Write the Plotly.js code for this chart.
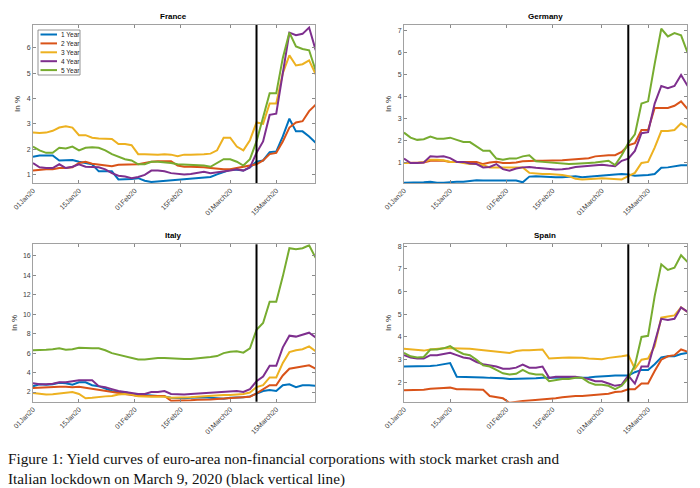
<!DOCTYPE html>
<html>
<head>
<meta charset="utf-8">
<script src="https://cdn.plot.ly/plotly-3.0.1.min.js"></script>
<style>
  html, body { margin: 0; padding: 0; background: #fff; }
  #chart { width: 700px; height: 488px; }
</style>
</head>
<body>
<div id="chart"></div>
<script>
// sampled every second day, 01 Jan 2020 - 27 Mar 2020
const dates = [
  "2020-01-01", "2020-01-03", "2020-01-05", "2020-01-07", "2020-01-09", "2020-01-11",
  "2020-01-13", "2020-01-15", "2020-01-17", "2020-01-19", "2020-01-21", "2020-01-23",
  "2020-01-25", "2020-01-27", "2020-01-29", "2020-01-31", "2020-02-02", "2020-02-04",
  "2020-02-06", "2020-02-08", "2020-02-10", "2020-02-12", "2020-02-14", "2020-02-16",
  "2020-02-18", "2020-02-20", "2020-02-22", "2020-02-24", "2020-02-26", "2020-02-28",
  "2020-03-01", "2020-03-03", "2020-03-05", "2020-03-07", "2020-03-09", "2020-03-11",
  "2020-03-13", "2020-03-15", "2020-03-17", "2020-03-19", "2020-03-21", "2020-03-23",
  "2020-03-25", "2020-03-27"
];

const maturities = ["1 Year", "2 Year", "3 Year", "4 Year", "5 Year"];
const lineColors = ["#0072BD", "#D95319", "#EDB120", "#7E2F8E", "#77AC30"];

const tickDates = ["2020-01-01", "2020-01-15", "2020-02-01", "2020-02-15", "2020-03-01", "2020-03-15"];
const tickLabels = ["01Jan20", "15Jan20", "01Feb20", "15Feb20", "01March20", "15March20"];
const crashDate = "2020-03-09";

// France
const france1Y = [1.7, 1.75, 1.75, 1.75, 1.55, 1.55, 1.57, 1.5, 1.45, 1.4, 1.12, 1.12, 1.12, 0.8, 0.8, 0.82,
  0.85, 0.75, 0.7, 0.72, 0.74, 0.76, 0.78, 0.8, 0.83, 0.86, 0.88, 0.9, 1.0, 1.1, 1.18, 1.18, 1.15, 1.28,
  1.5, 1.55, 1.88, 1.9, 2.5, 3.2, 2.7, 2.7, 2.5, 2.25];
const france2Y = [1.15, 1.18, 1.2, 1.2, 1.25, 1.25, 1.28, 1.45, 1.5, 1.42, 1.38, 1.35, 1.32, 1.38, 1.38, 1.38,
  1.4, 1.45, 1.5, 1.52, 1.52, 1.52, 1.35, 1.3, 1.3, 1.3, 1.28, 1.25, 1.22, 1.2, 1.2, 1.25, 1.3, 1.35,
  1.4, 1.55, 1.8, 1.85, 2.3, 2.85, 3.05, 3.1, 3.5, 3.75];
const france3Y = [2.65, 2.63, 2.65, 2.72, 2.85, 2.9, 2.85, 2.55, 2.55, 2.45, 2.42, 2.4, 2.4, 2.2, 2.2, 2.15,
  1.8, 1.8, 1.78, 1.78, 1.8, 1.78, 1.72, 1.78, 1.78, 1.78, 1.8, 1.82, 1.95, 2.45, 2.45, 2.1, 1.95, 2.35,
  3.05, 3.0, 3.8, 3.8, 5.0, 5.7, 5.3, 5.35, 5.5, 4.95];
const france4Y = [1.45, 1.28, 1.25, 1.25, 1.4, 1.25, 1.3, 1.4, 1.3, 1.3, 1.28, 1.2, 1.05, 0.95, 0.92, 0.85,
  0.9, 0.98, 1.15, 1.15, 1.12, 1.05, 1.02, 1.0, 1.02, 1.05, 1.1, 1.05, 1.08, 1.12, 1.15, 1.2, 1.15, 1.28,
  1.85, 2.3, 3.35, 3.4, 5.0, 6.6, 6.5, 6.55, 6.8, 5.9];
const france5Y = [2.1, 1.95, 1.85, 1.85, 2.05, 2.02, 2.1, 1.95, 2.05, 2.07, 2.05, 1.95, 1.8, 1.7, 1.6, 1.55,
  1.4, 1.4, 1.5, 1.5, 1.48, 1.45, 1.4, 1.38, 1.38, 1.35, 1.35, 1.3, 1.45, 1.6, 1.6, 1.5, 1.35, 1.6,
  2.3, 3.2, 4.2, 4.2, 5.6, 6.6, 6.05, 5.95, 5.9, 5.1];

// Germany
const germany1Y = [0.1, 0.1, 0.1, 0.12, 0.15, 0.1, 0.1, 0.13, 0.15, 0.15, 0.17, 0.22, 0.2, 0.2, 0.2, 0.2,
  0.2, 0.2, 0.12, 0.38, 0.4, 0.38, 0.35, 0.35, 0.35, 0.38, 0.4, 0.35, 0.38, 0.42, 0.45, 0.45, 0.48, 0.5,
  0.48, 0.42, 0.42, 0.45, 0.5, 0.78, 0.8, 0.85, 0.9, 0.9];
const germany2Y = [1.0, 1.0, 1.0, 1.02, 1.1, 1.1, 1.1, 1.05, 1.05, 1.05, 1.05, 1.05, 0.95, 1.02, 1.05, 1.0,
  1.0, 1.02, 1.08, 1.1, 1.1, 1.1, 1.1, 1.1, 1.12, 1.15, 1.18, 1.2, 1.22, 1.3, 1.33, 1.35, 1.35, 1.5,
  1.8, 1.9, 2.5, 2.5, 3.5, 3.5, 3.5, 3.6, 3.8, 3.45];
const germany3Y = [1.0, 1.0, 1.0, 1.05, 1.15, 1.15, 1.12, 1.05, 1.05, 1.0, 0.95, 0.95, 0.9, 0.8, 0.8, 0.8,
  0.8, 0.8, 0.8, 0.55, 0.52, 0.5, 0.5, 0.48, 0.45, 0.4, 0.28, 0.25, 0.25, 0.28, 0.3, 0.28, 0.28, 0.25,
  0.4, 0.55, 1.0, 1.05, 1.7, 2.45, 2.45, 2.5, 2.8, 2.6];
const germany4Y = [1.2, 1.0, 1.0, 1.02, 1.3, 1.28, 1.3, 1.22, 1.05, 1.05, 0.98, 0.95, 0.8, 0.82, 0.95, 0.72,
  0.65, 0.75, 0.8, 0.82, 0.78, 0.75, 0.72, 0.7, 0.72, 0.75, 0.82, 0.85, 0.85, 0.9, 0.92, 0.88, 0.85, 1.1,
  1.2, 1.55, 2.35, 2.4, 3.7, 4.5, 4.4, 4.5, 5.0, 4.5];
const germany5Y = [2.38, 2.15, 2.05, 2.08, 2.2, 2.1, 2.1, 2.15, 2.05, 1.95, 1.95, 1.75, 1.55, 1.55, 1.2, 1.15,
  1.2, 1.2, 1.3, 1.35, 1.08, 1.05, 1.02, 1.0, 0.95, 0.95, 0.97, 1.0, 1.0, 1.02, 1.05, 1.1, 0.9, 1.35,
  1.9, 2.3, 3.7, 3.8, 5.5, 7.1, 6.75, 6.9, 6.8, 6.0];

// Italy
const italy1Y = [2.6, 2.8, 2.75, 2.8, 2.95, 2.9, 2.75, 3.0, 3.0, 2.7, 2.6, 2.35, 2.1, 2.0, 2.0, 1.8,
  1.7, 1.7, 1.65, 1.6, 1.55, 1.4, 1.35, 1.35, 1.4, 1.45, 1.45, 1.4, 1.35, 1.3, 1.4, 1.4, 1.45, 1.55,
  1.85, 2.1, 2.2, 2.1, 2.7, 2.8, 2.5, 2.7, 2.7, 2.65];
const italy2Y = [2.4, 2.45, 2.45, 2.5, 2.55, 2.55, 2.5, 2.55, 2.45, 2.3, 2.2, 2.1, 2.05, 1.95, 1.85, 1.7,
  1.6, 1.6, 1.62, 1.6, 1.6, 1.1, 1.1, 1.1, 1.15, 1.2, 1.2, 1.22, 1.28, 1.32, 1.35, 1.35, 1.4, 1.5,
  1.85, 2.3, 2.7, 2.7, 3.7, 4.4, 4.5, 4.6, 4.75, 4.4];
const italy3Y = [1.9, 1.8, 1.75, 1.78, 1.85, 1.9, 2.0, 1.8, 1.35, 1.4, 1.5, 1.55, 1.6, 1.75, 1.8, 1.75,
  1.55, 1.5, 1.5, 1.5, 1.5, 1.4, 1.4, 1.42, 1.45, 1.5, 1.55, 1.6, 1.7, 1.7, 1.7, 1.75, 1.8, 1.95,
  2.5, 2.7, 3.5, 3.5, 5.0, 6.1, 6.3, 6.4, 6.7, 6.2];
const italy4Y = [2.9, 2.8, 2.8, 2.85, 3.0, 3.0, 3.1, 3.2, 3.2, 3.2, 2.6, 2.5, 2.3, 2.1, 2.0, 1.9,
  1.8, 1.8, 2.0, 2.0, 2.1, 1.8, 1.75, 1.75, 1.8, 1.85, 1.9, 1.95, 2.0, 2.05, 2.1, 2.1, 2.0, 2.3,
  3.1, 3.6, 4.7, 4.7, 6.6, 7.8, 7.7, 7.9, 8.1, 7.6];
const italy5Y = [6.3, 6.3, 6.35, 6.4, 6.5, 6.35, 6.4, 6.55, 6.5, 6.5, 6.5, 6.3, 6.0, 5.85, 5.7, 5.5,
  5.35, 5.35, 5.45, 5.5, 5.5, 5.45, 5.4, 5.4, 5.4, 5.45, 5.55, 5.6, 5.7, 6.0, 6.15, 6.2, 6.05, 6.5,
  8.4, 9.1, 11.3, 11.3, 13.9, 16.8, 16.7, 16.8, 17.1, 15.8];

// Spain
const spain1Y = [2.7, 2.7, 2.7, 2.7, 2.72, 2.75, 2.8, 2.85, 2.25, 2.25, 2.25, 2.25, 2.22, 2.2, 2.2, 2.18,
  2.15, 2.15, 2.15, 2.17, 2.18, 2.2, 2.2, 2.2, 2.2, 2.2, 2.22, 2.2, 2.22, 2.25, 2.25, 2.28, 2.3, 2.3,
  2.3, 2.45, 2.55, 2.55, 2.8, 3.1, 3.15, 3.15, 3.25, 3.3];
const spain2Y = [1.65, 1.65, 1.65, 1.68, 1.72, 1.75, 1.75, 1.77, 1.7, 1.7, 1.7, 1.7, 1.68, 1.4, 1.35, 1.3,
  1.1, 1.15, 1.18, 1.2, 1.22, 1.25, 1.28, 1.3, 1.35, 1.38, 1.4, 1.4, 1.42, 1.45, 1.48, 1.5, 1.58, 1.6,
  1.7, 1.7, 1.95, 1.95, 2.5, 3.0, 3.15, 3.2, 3.45, 3.35];
const spain3Y = [3.48, 3.45, 3.42, 3.4, 3.45, 3.48, 3.5, 3.5, 3.5, 3.5, 3.48, 3.45, 3.42, 3.4, 3.35, 3.32,
  3.3, 3.38, 3.42, 3.42, 3.42, 3.45, 3.05, 3.05, 3.08, 3.1, 3.1, 3.08, 3.05, 3.05, 3.02, 3.08, 3.1, 3.15,
  3.2, 2.6, 3.0, 3.05, 3.6, 4.85, 4.9, 4.95, 5.3, 5.1];
const spain4Y = [3.2, 3.1, 3.05, 3.05, 3.2, 3.2, 3.25, 3.3, 3.2, 3.1, 3.05, 2.9, 2.8, 2.75, 2.7, 2.6,
  2.6, 2.65, 2.78, 2.65, 2.65, 2.7, 2.2, 2.25, 2.25, 2.25, 2.25, 2.2, 2.15, 2.05, 2.05, 1.95, 1.85, 1.9,
  2.3, 1.95, 2.7, 2.7, 3.8, 4.8, 4.75, 4.8, 5.3, 5.1];
const spain5Y = [3.3, 3.15, 3.1, 3.12, 3.45, 3.45, 3.5, 3.6, 3.4, 3.25, 3.2, 3.0, 2.75, 2.7, 2.55, 2.4,
  2.35, 2.38, 2.55, 2.4, 2.35, 2.35, 2.05, 2.1, 2.15, 2.15, 2.2, 2.2, 2.0, 1.9, 1.9, 1.85, 1.7, 1.85,
  2.2, 2.75, 4.0, 4.05, 5.8, 7.2, 6.95, 7.05, 7.6, 7.3];

const panels = [
  { name: "France",  series: [france1Y, france2Y, france3Y, france4Y, france5Y],      range: [0.66, 6.9],  dtick: 1, ax: "" },
  { name: "Germany", series: [germany1Y, germany2Y, germany3Y, germany4Y, germany5Y], range: [0.09, 7.27], dtick: 1, ax: "2" },
  { name: "Italy",   series: [italy1Y, italy2Y, italy3Y, italy4Y, italy5Y],           range: [1.0, 17.2],  dtick: 2, ax: "3" },
  { name: "Spain",   series: [spain1Y, spain2Y, spain3Y, spain4Y, spain5Y],           range: [1.15, 8.08], dtick: 1, ax: "4" }
];

const W = 700, H = 488;
const font = "Liberation Sans, Arial, sans-serif";
const boxColor = "#8a8a8a";
const xDomains = [[0.0471, 0.45], [0.5771, 0.9814], [0.0471, 0.45], [0.5771, 0.9814]];
const yDomains = [[0.625, 0.9488], [0.625, 0.9488], [0.1768, 0.4994], [0.1768, 0.4994]];

const traces = [];
const layout = {
  width: W,
  height: H,
  margin: { l: 0, r: 0, t: 0, b: 0 },
  paper_bgcolor: "#fff",
  plot_bgcolor: "#fff",
  font: { family: font, size: 7, color: "#404040" },
  showlegend: false,
  shapes: [],
  annotations: []
};

panels.forEach((p, i) => {
  p.series.forEach((vals, k) => {
    traces.push({
      x: dates,
      y: vals,
      type: "scatter",
      mode: "lines",
      name: maturities[k],
      line: { color: lineColors[k], width: 2 },
      xaxis: "x" + p.ax,
      yaxis: "y" + p.ax,
      hoverinfo: "skip"
    });
  });

  layout["xaxis" + p.ax] = {
    domain: xDomains[i],
    anchor: "y" + p.ax,
    type: "date",
    range: ["2020-01-01", "2020-03-26 19:00"],
    tickmode: "array",
    tickvals: tickDates,
    ticktext: tickLabels,
    tickangle: -45,
    tickfont: { size: 7, color: "#404040" },
    ticks: "inside", ticklen: 3, tickcolor: boxColor,
    showline: true, linecolor: boxColor, linewidth: 0.8, mirror: "ticks",
    showgrid: false, zeroline: false
  };
  layout["yaxis" + p.ax] = {
    domain: yDomains[i],
    anchor: "x" + p.ax,
    range: p.range,
    dtick: p.dtick,
    tick0: 0,
    tickfont: { size: 7, color: "#404040" },
    ticks: "inside", ticklen: 3, tickcolor: boxColor,
    showline: true, linecolor: boxColor, linewidth: 0.8, mirror: "ticks",
    showgrid: false, zeroline: false,
    title: { text: "In %", font: { size: 8, color: "#262626" }, standoff: 4 }
  };

  layout.shapes.push({
    type: "line", xref: "x" + p.ax, yref: "y" + p.ax + " domain",
    x0: crashDate, x1: crashDate, y0: 0, y1: 1,
    line: { color: "#000", width: 2 }
  });

  layout.annotations.push({
    text: "<b>" + p.name + "</b>",
    xref: "paper", yref: "paper",
    x: (xDomains[i][0] + xDomains[i][1]) / 2,
    y: yDomains[i][1] + 0.004,
    xanchor: "center", yanchor: "bottom",
    showarrow: false,
    font: { size: 8, color: "#000" }
  });
});

// compact Matlab-style legend in the France panel (pixel positions converted to paper)
const legBox = { left: 38, right: 80, top: 30, bottom: 75 };
layout.shapes.push({
  type: "rect", xref: "paper", yref: "paper",
  x0: legBox.left / W, x1: legBox.right / W,
  y0: 1 - legBox.bottom / H, y1: 1 - legBox.top / H,
  fillcolor: "#fff", line: { color: "#7a7a7a", width: 0.8 }, layer: "above"
});
maturities.forEach((label, k) => {
  const py = 34.5 + k * 8.9;
  layout.shapes.push({
    type: "line", xref: "paper", yref: "paper",
    x0: 40.5 / W, x1: 57 / W, y0: 1 - py / H, y1: 1 - py / H,
    line: { color: lineColors[k], width: 2 }, layer: "above"
  });
  layout.annotations.push({
    text: label, xref: "paper", yref: "paper",
    x: 59 / W, y: 1 - py / H, xanchor: "left", yanchor: "middle",
    showarrow: false, font: { size: 6.5, color: "#222" }
  });
});

const captionFont = { family: "Liberation Serif, DejaVu Serif, serif", size: 15.2, color: "#111" };
layout.annotations.push({
  text: "Figure 1: Yield curves of euro-area non-financial corporations with stock market crash and",
  xref: "paper", yref: "paper", x: 6 / W, y: 1 - 458.5 / H,
  xanchor: "left", yanchor: "middle", showarrow: false, font: captionFont
});
layout.annotations.push({
  text: "Italian lockdown on March 9, 2020 (black vertical line)",
  xref: "paper", yref: "paper", x: 6 / W, y: 1 - 478.5 / H,
  xanchor: "left", yanchor: "middle", showarrow: false, font: captionFont
});

Plotly.newPlot("chart", traces, layout, { displayModeBar: false, staticPlot: true });
</script>
</body>
</html>
